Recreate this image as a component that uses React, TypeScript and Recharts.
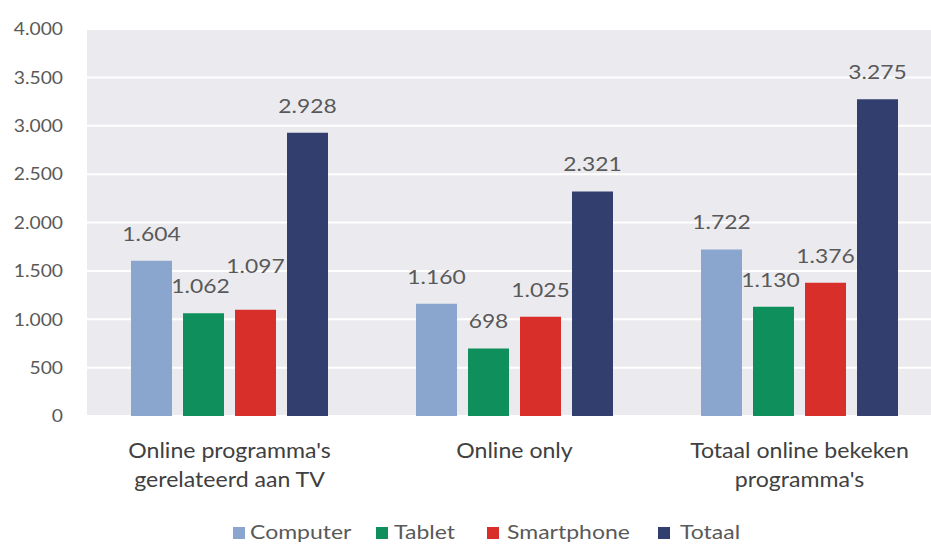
import React from 'react';
import { BarChart, Bar, XAxis, YAxis, CartesianGrid, Legend, LabelList } from 'recharts';

const categories = ["Online programma's|gerelateerd aan TV", 'Online only', "Totaal online bekeken|programma's"];
const computer = [1604, 1160, 1722];
const tablet = [1062, 698, 1130];
const smartphone = [1097, 1025, 1376];
const totaal = [2928, 2321, 3275];
const yTicks = [0, 500, 1000, 1500, 2000, 2500, 3000, 3500, 4000];

const seriesNames = ['Computer', 'Tablet', 'Smartphone', 'Totaal'];
const seriesKeys = ['computer', 'tablet', 'smartphone', 'totaal'];
const seriesColors = ['#8aa6cf', '#0e8f5b', '#d92f2a', '#323f6e'];

const data = categories.map((c, i) => ({
  name: c,
  computer: computer[i],
  tablet: tablet[i],
  smartphone: smartphone[i],
  totaal: totaal[i],
}));

// label placement tweaks (style only): [dx, extra lift]
const labelTweak: Record<string, [number, number]> = {
  'tablet-0': [-3, 0],
  'smartphone-0': [0, 17],
  'tablet-2': [-3, 0],
};

const FONT = 'Lato, "Open Sans", sans-serif';

const fmt = (v: number) => String(v).replace(/\B(?=(\d{3})+(?!\d))/g, '.');

const XTick = (props: any) => {
  const { x, y, payload } = props;
  const lines = String(payload.value).split('|');
  return (
    <g transform={`translate(${x},${y}) scale(1.1,1)`}>
      <text textAnchor="middle" fill="#404040" fontSize={21} fontFamily={FONT}>
        {lines.map((l, i) => (
          <tspan key={i} x={0} y={34 + i * 29}>{l}</tspan>
        ))}
      </text>
    </g>
  );
};

const YTick = (props: any) => {
  const { x, y, payload } = props;
  return (
    <g transform={`translate(${x},${y}) scale(1.07,1)`}>
      <text textAnchor="end" fill="#595959" fontSize={18} fontFamily={FONT} dy="0.35em">
        {fmt(payload.value)}
      </text>
    </g>
  );
};

const makeLabel = (key: string) => (props: any) => {
  const { x, y, width, value, index } = props;
  const tw = labelTweak[`${key}-${index}`] || [0, 0];
  const cx = Number(x) + Number(width) / 2 + tw[0];
  return (
    <g transform={`translate(${cx},${Number(y) - 20 - tw[1]}) scale(1.17,1)`}>
      <text textAnchor="middle" fill="#595959" fontSize={19.5} fontFamily={FONT}>
        {fmt(Number(value))}
      </text>
    </g>
  );
};

const squareLeft = [233, 376, 487, 658];
const textLeft = [250, 394, 507, 680];

const LegendContent = () => (
  <div style={{ position: 'relative', height: 49, fontFamily: FONT, fontSize: 19, color: '#595959' }}>
    {seriesNames.map((n, i) => (
      <React.Fragment key={n}>
        <span style={{ position: 'absolute', left: squareLeft[i], top: 31, width: 12, height: 12, background: seriesColors[i] }} />
        <span style={{ position: 'absolute', left: textLeft[i], top: 24, lineHeight: '24px', transform: 'scaleX(1.21)', transformOrigin: 'left center', whiteSpace: 'nowrap' }}>{n}</span>
      </React.Fragment>
    ))}
  </div>
);

export default function App() {
  return (
    <div style={{ position: 'absolute', left: 0, top: 0, width: 931, height: 545, background: '#fff', overflow: 'hidden' }}>
      <BarChart
        width={942}
        height={545}
        data={data}
        margin={{ top: 29, right: 0, left: 0, bottom: 0 }}
        barGap={11}
      >
        <CartesianGrid vertical={false} stroke="#ffffff" strokeWidth={2} fill="#ebebef" />
        <XAxis dataKey="name" axisLine={false} tickLine={false} tick={<XTick />} interval={0} height={80} />
        <YAxis
          domain={[0, 4000]}
          ticks={yTicks}
          axisLine={false}
          tickLine={false}
          width={87}
          tickSize={0}
          tickMargin={24}
          tick={<YTick />}
        />
        <Legend verticalAlign="bottom" align="left" height={49} content={<LegendContent />} />
        {seriesKeys.map((k, i) => (
          <Bar key={k} dataKey={k} name={seriesNames[i]} fill={seriesColors[i]} isAnimationActive={false} barSize={41}>
            <LabelList dataKey={k} content={makeLabel(k)} />
          </Bar>
        ))}
      </BarChart>
    </div>
  );
}
